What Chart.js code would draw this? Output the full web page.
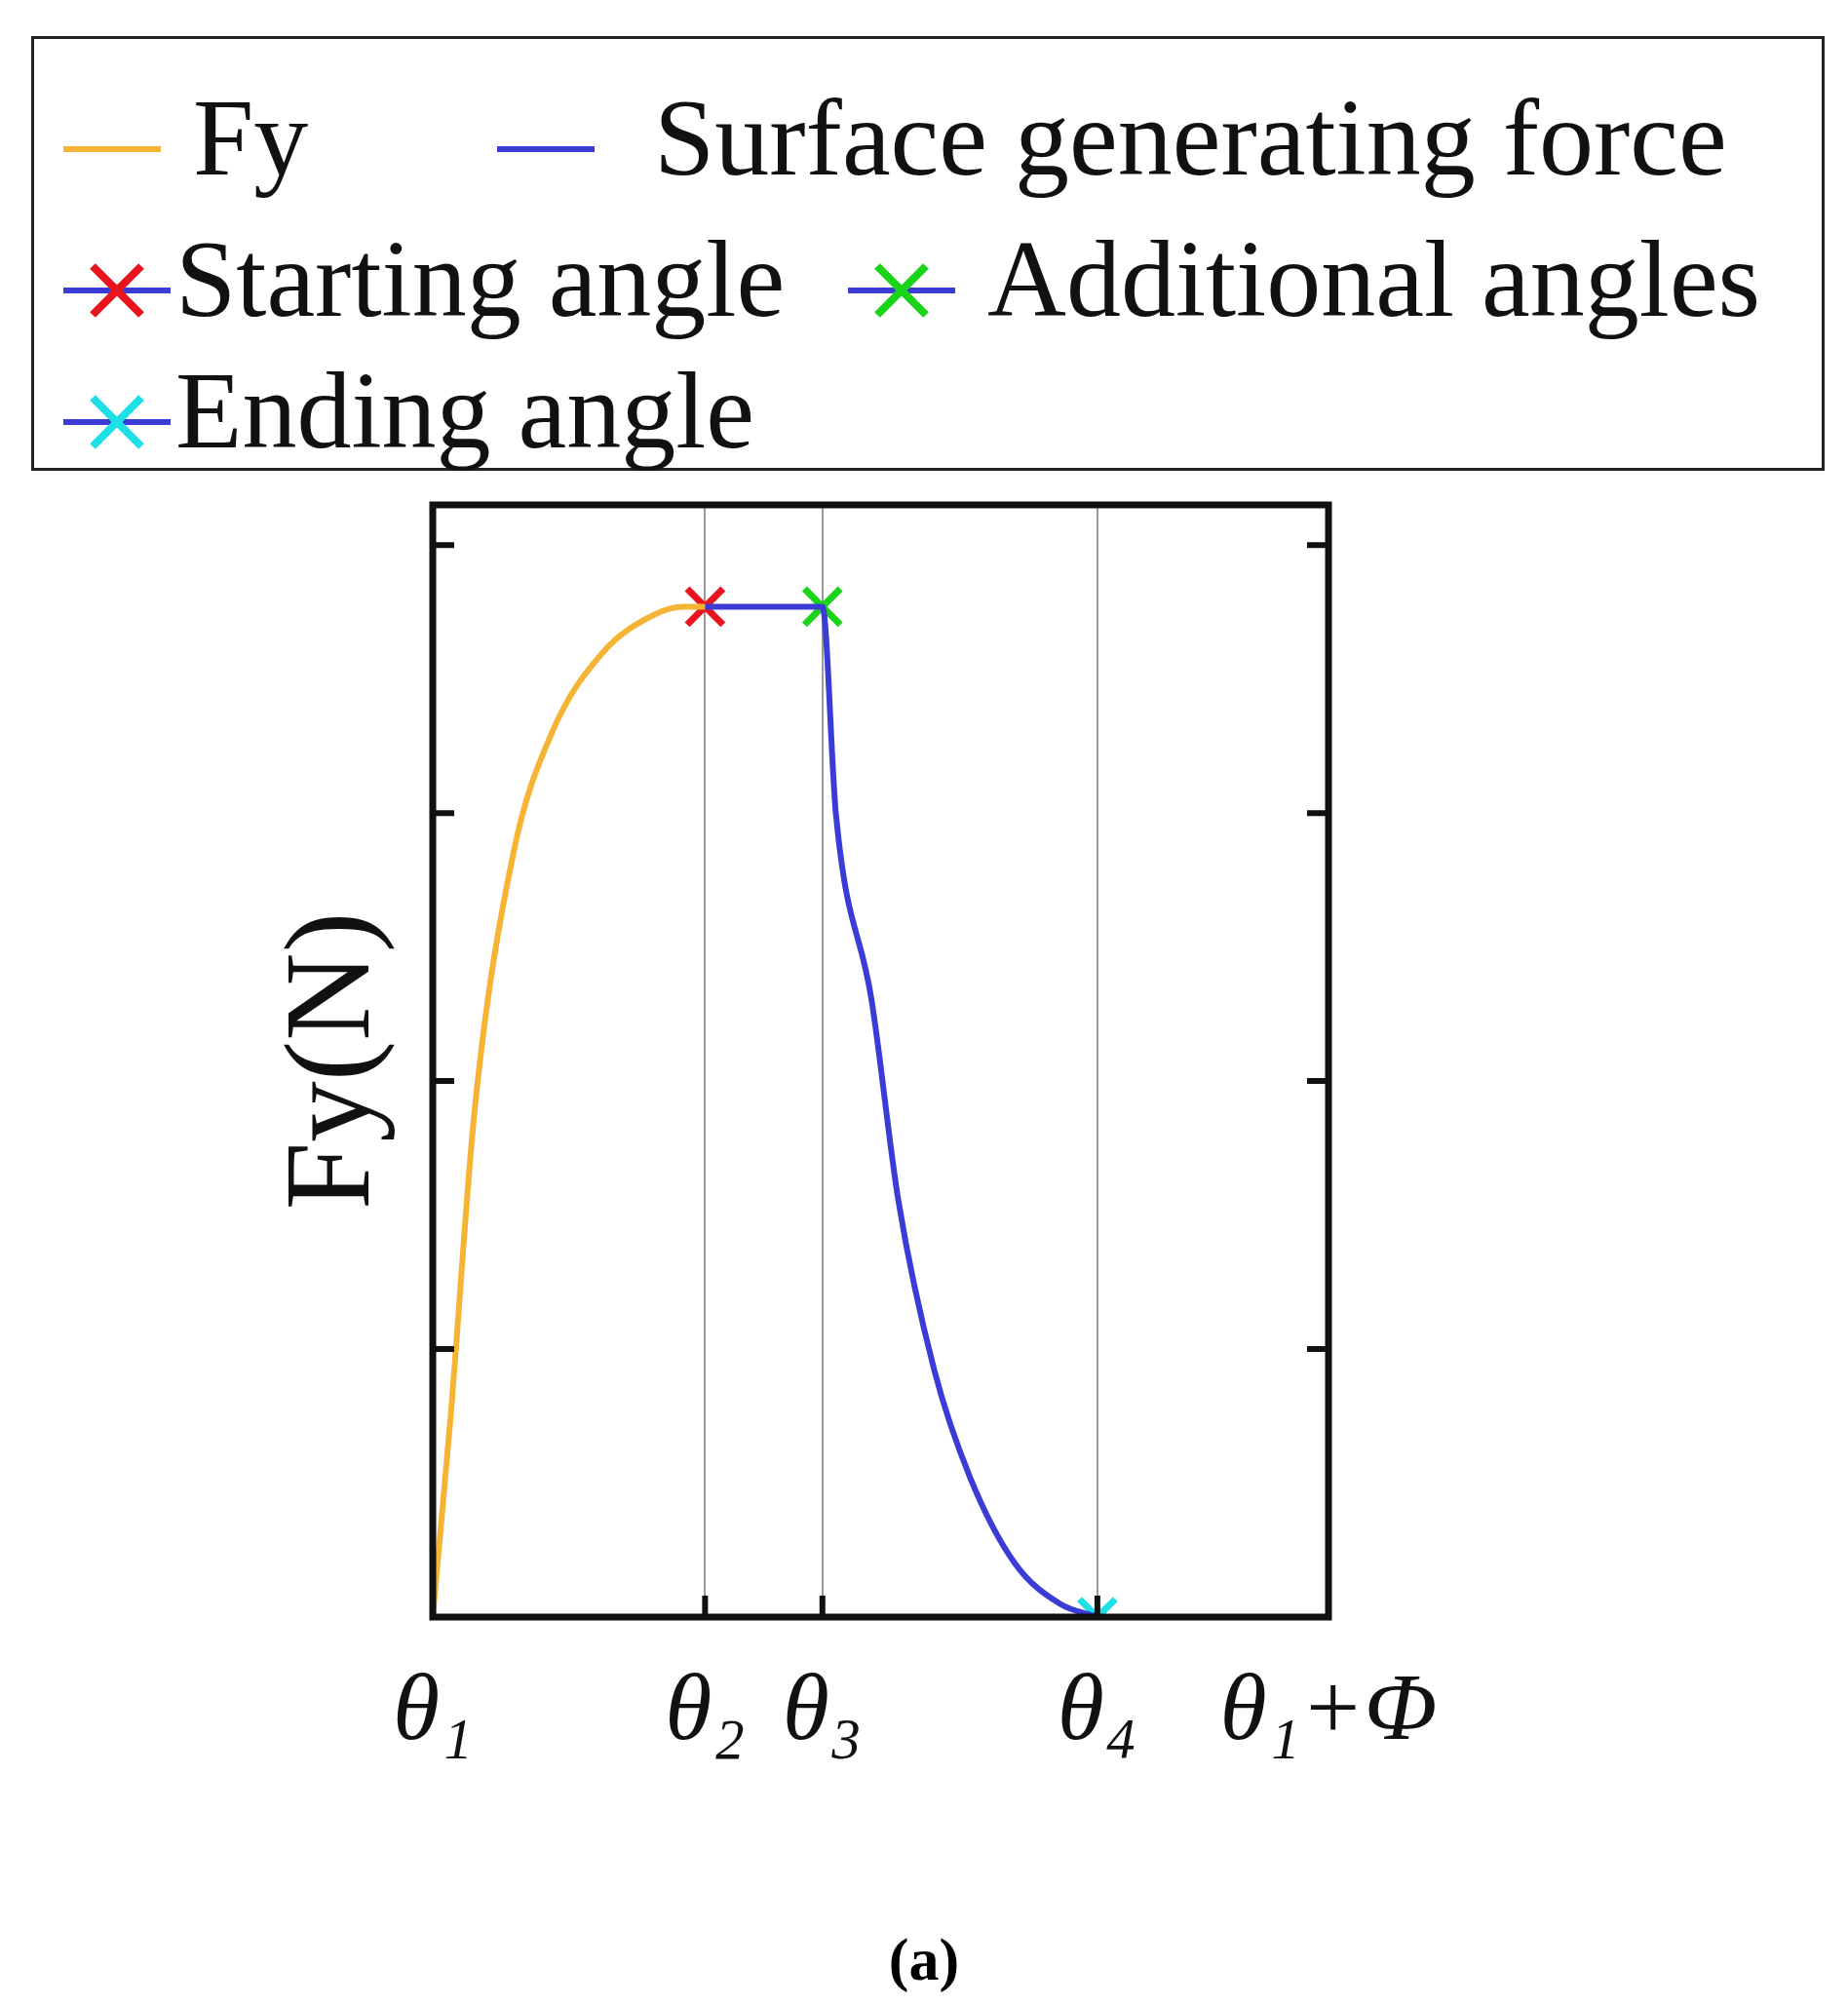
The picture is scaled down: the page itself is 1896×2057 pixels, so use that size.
<!DOCTYPE html>
<html><head><meta charset="utf-8">
<script src="https://cdn.jsdelivr.net/npm/chart.js@4.4.0/dist/chart.umd.min.js"></script>
<style>
body{margin:0;background:#fff;width:1896px;height:2057px;position:relative;overflow:hidden;font-family:"Liberation Serif",serif}
#wrap{position:absolute;left:0;top:0;width:1896px;height:2057px}
#legend{position:absolute;left:32px;top:37px;width:1840px;height:446px;border:3px solid #222;box-sizing:border-box;font-size:112px;color:#111}
.it{position:absolute;white-space:nowrap;line-height:1}
.it svg{vertical-align:middle}
#cap{position:absolute;left:0;width:1896px;top:1975px;text-align:center;font-size:62px;font-weight:bold;font-family:"Liberation Serif",serif}
</style></head><body>
<div id="wrap"><canvas id="c" width="1896" height="2057"></canvas></div>
<div id="legend">
 <div class="it" style="left:25px;top:45px"><svg width="110" height="40"><line x1="5" y1="20" x2="105" y2="20" stroke="#f5b433" stroke-width="6"/></svg> Fy</div>
 <div class="it" style="left:470px;top:45px"><svg width="110" height="40"><line x1="5" y1="20" x2="105" y2="20" stroke="#3b3bd6" stroke-width="6"/></svg>&nbsp;&nbsp;Surface generating force</div>
 <div class="it" style="left:25px;top:190px"><svg width="120" height="80"><line x1="5" y1="40" x2="115" y2="40" stroke="#3b3bd6" stroke-width="6"/><path d="M35 15L85 65M85 15L35 65" stroke="#e8141e" stroke-width="8"/></svg>Starting angle</div>
 <div class="it" style="left:830px;top:190px"><svg width="120" height="80"><line x1="5" y1="40" x2="115" y2="40" stroke="#3b3bd6" stroke-width="6"/><path d="M35 15L85 65M85 15L35 65" stroke="#19d419" stroke-width="8"/></svg>&nbsp;Additional angles</div>
 <div class="it" style="left:25px;top:325px"><svg width="120" height="80"><line x1="5" y1="40" x2="115" y2="40" stroke="#3b3bd6" stroke-width="6"/><path d="M35 15L85 65M85 15L35 65" stroke="#1ee0e6" stroke-width="8"/></svg>Ending angle</div>
</div>
<div id="cap">(a)</div>
<script>
// angle positions (normalized)
const tickPos = [0, 0.304, 0.435, 0.742, 1];
const tickLabels = ['θ₁', 'θ₂', 'θ₃', 'θ₄', 'θ₁+Φ'];
const yTicks = [1, 2, 3, 4];

const fyX = [0, 0.02, 0.047, 0.09, 0.133, 0.19, 0.247, 0.28, 0.304];
const fyY = [0, 0.75, 1.9, 2.85, 3.3, 3.6, 3.74, 3.77, 3.77];
const fyTailX = [0.742, 1];
const fyTailY = [0, 0];

const sgX = [0.304, 0.435, 0.45, 0.49, 0.52, 0.56, 0.6, 0.65, 0.7, 0.742];
const sgY = [3.77, 3.77, 3.0, 2.3, 1.55, 0.92, 0.52, 0.2, 0.05, 0];

const startPt = [0.304, 3.77], addPt = [0.435, 3.77], endPt = [0.742, 0];

const pts = (xs, ys) => xs.map((x, i) => ({x, y: ys[i]}));
const mark = (p, col) => ({type:'scatter', data:[{x:p[0], y:p[1]}], pointStyle:'crossRot', pointRadius:26, borderColor:col, borderWidth:7, showLine:false});

const frame = {
  id:'frame',
  afterDraw(ch) {
    const {ctx, chartArea:a, scales:{x, y}} = ch;
    ctx.save();
    ctx.strokeStyle = '#111'; ctx.lineWidth = 6;
    yTicks.forEach(v => {
      const py = y.getPixelForValue(v);
      ctx.beginPath(); ctx.moveTo(a.left, py); ctx.lineTo(a.left + 22, py);
      ctx.moveTo(a.right, py); ctx.lineTo(a.right - 22, py); ctx.stroke();
    });
    tickPos.slice(1, 4).forEach(v => {
      const px = x.getPixelForValue(v);
      ctx.beginPath(); ctx.moveTo(px, a.bottom); ctx.lineTo(px, a.bottom - 22); ctx.stroke();
    });
    ctx.lineWidth = 7;
    ctx.strokeRect(a.left, a.top, a.right - a.left, a.bottom - a.top);
    ctx.restore();
  }
};

new Chart(document.getElementById('c'), {
  type:'line',
  data:{datasets:[
    {data:pts(fyX, fyY), borderColor:'#f5b433', borderWidth:6, pointRadius:0, cubicInterpolationMode:'monotone'},
    {data:pts(fyTailX, fyTailY), borderColor:'#f5b433', borderWidth:6, pointRadius:0},
    {data:pts(sgX, sgY), borderColor:'#3b3bd6', borderWidth:6, pointRadius:0, cubicInterpolationMode:'monotone'},
    mark(startPt, '#e8141e'), mark(addPt, '#19d419'), mark(endPt, '#1ee0e6')
  ]},
  options:{
    responsive:false, animation:false, devicePixelRatio:1,
    layout:{padding:{left:0, right:533, top:518, bottom:0}},
    plugins:{legend:{display:false}, tooltip:{enabled:false}},
    scales:{
      x:{type:'linear', min:0, max:1,
        afterBuildTicks:s => { s.ticks = tickPos.map(v => ({value:v})); },
        afterFit:s => { s.height = 398; },
        ticks:{callback:(v, i) => tickLabels[i], color:'#111', padding:40, maxRotation:0, autoSkip:false,
          font:{family:'Liberation Serif', style:'italic', size:98}},
        grid:{drawTicks:false, color:c => (c.index >= 1 && c.index <= 3) ? '#999' : 'rgba(0,0,0,0)', lineWidth:2},
        border:{display:false}},
      y:{min:0, max:4.15,
        afterBuildTicks:s => { s.ticks = yTicks.map(v => ({value:v})); },
        afterFit:s => { s.width = 444; },
        ticks:{display:false},
        grid:{display:false}, border:{display:false},
        title:{display:true, text:'Fy(N)', color:'#111', padding:{top:270}, font:{family:'Liberation Serif', size:125}}}
    }
  },
  plugins:[frame]
});
</script>
</body></html>
